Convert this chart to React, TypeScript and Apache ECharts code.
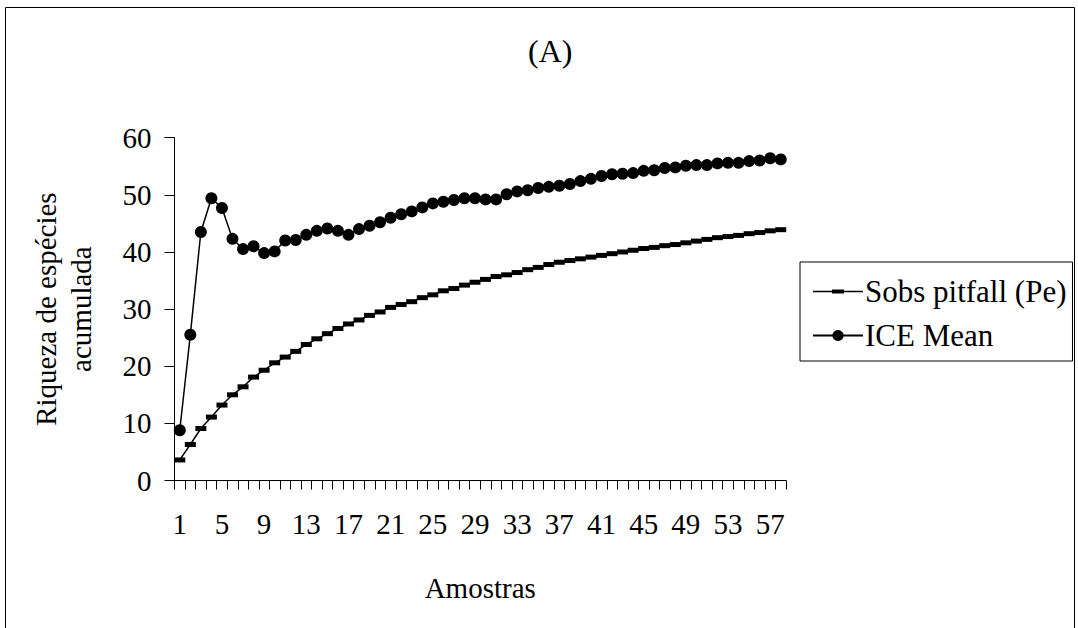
import React, { useEffect, useRef } from "react";
import * as echarts from "echarts";

const categories: string[] = Array.from({ length: 58 }, (_, i) => String(i + 1));

const sobsPitfall: number[] = [
  3.6, 6.3, 9.1, 11.1, 13.2, 15.0, 16.4, 18.1, 19.3, 20.6,
  21.6, 22.6, 23.8, 24.8, 25.7, 26.6, 27.4, 28.1, 28.9, 29.5,
  30.3, 30.8, 31.3, 32.0, 32.5, 33.2, 33.6, 34.2, 34.7, 35.2,
  35.7, 36.0, 36.4, 36.9, 37.3, 37.8, 38.2, 38.5, 38.8, 39.1,
  39.4, 39.7, 40.0, 40.3, 40.6, 40.8, 41.1, 41.3, 41.6, 41.9,
  42.2, 42.5, 42.7, 42.9, 43.2, 43.4, 43.7, 43.9,
];

const iceMean: number[] = [
  8.8, 25.5, 43.5, 49.4, 47.7, 42.3, 40.5, 41.0, 39.8, 40.1,
  42.0, 42.1, 43.0, 43.7, 44.1, 43.7, 43.0, 44.0, 44.6, 45.2,
  46.0, 46.6, 47.1, 47.8, 48.5, 48.8, 49.1, 49.4, 49.4, 49.2,
  49.2, 50.1, 50.6, 50.8, 51.2, 51.4, 51.6, 51.9, 52.4, 52.8,
  53.3, 53.6, 53.7, 53.8, 54.2, 54.3, 54.7, 54.8, 55.1, 55.2,
  55.2, 55.5, 55.6, 55.6, 55.9, 56.0, 56.4, 56.2,
];

const FONT = "'Liberation Serif', 'Times New Roman', serif";

// legend icon for the dash-marker series: a line with a small flat bar (box 50 x 14)
const SOBS_ICON =
  "path://M0 0L0.01 0L0 0.01Z M50 14L49.99 14L50 13.99Z M0 6.25H50V7.75H0Z M19 5H31V9H19Z";

export default function App() {
  const ref = useRef<HTMLDivElement>(null);
  useEffect(() => {
    if (!ref.current) return;
    const chart = echarts.init(ref.current, null, { renderer: "svg" });
    chart.setOption({
      animation: false,
      backgroundColor: "#ffffff",
      textStyle: { fontFamily: FONT, color: "#000" },
      title: {
        text: "(A)",
        left: 523,
        top: 30,
        textStyle: { fontFamily: FONT, fontSize: 32, fontWeight: "normal", color: "#000" },
      },
      graphic: [
        {
          type: "rect",
          shape: { x: 5.5, y: 7.5, width: 1069, height: 640 },
          style: { fill: "none", stroke: "#000", lineWidth: 1 },
          silent: true,
        },
      ],
      legend: {
        orient: "vertical",
        left: 800,
        top: 262,
        padding: [14, 6, 10, 12],
        itemGap: 13,
        itemWidth: 50,
        itemHeight: 14,
        borderColor: "#000",
        borderWidth: 1,
        borderRadius: 0,
        textStyle: { fontFamily: FONT, fontSize: 31, color: "#000", padding: [0, 0, 0, -3] },
        data: [
          { name: "Sobs pitfall (Pe)", icon: SOBS_ICON, itemStyle: { color: "#000", borderWidth: 0 } },
          { name: "ICE Mean" },
        ],
      },
      grid: { left: 174.5, right: 292, top: 137.7, bottom: 147.5, containLabel: false },
      xAxis: {
        type: "category",
        data: categories,
        boundaryGap: true,
        name: "Amostras",
        nameLocation: "middle",
        nameGap: 93,
        nameTextStyle: { fontFamily: FONT, fontSize: 29, color: "#000" },
        axisLine: { lineStyle: { color: "#000", width: 1 } },
        axisTick: { show: true, alignWithLabel: false, interval: 0, length: 9, lineStyle: { color: "#000" } },
        axisLabel: { interval: 3, margin: 29, fontFamily: FONT, fontSize: 29, color: "#000" },
        splitLine: { show: false },
      },
      yAxis: {
        type: "value",
        min: 0,
        max: 60,
        interval: 10,
        name: "Riqueza de espécies\nacumulada",
        nameLocation: "middle",
        nameGap: 76,
        nameRotate: 90,
        nameTextStyle: { fontFamily: FONT, fontSize: 29, color: "#000", lineHeight: 35 },
        axisLine: { show: true, lineStyle: { color: "#000", width: 1 } },
        axisTick: { show: true, length: 10, lineStyle: { color: "#000" } },
        axisLabel: { margin: 23, fontFamily: FONT, fontSize: 29, color: "#000" },
        splitLine: { show: false },
      },
      series: [
        {
          name: "Sobs pitfall (Pe)",
          type: "line",
          data: sobsPitfall,
          symbol: "rect",
          symbolSize: [11, 5],
          showAllSymbol: true,
          lineStyle: { color: "#000", width: 1.5 },
          itemStyle: { color: "#000", borderWidth: 0 },
        },
        {
          name: "ICE Mean",
          type: "line",
          data: iceMean,
          symbol: "circle",
          symbolSize: 12,
          showAllSymbol: true,
          lineStyle: { color: "#000", width: 1.5 },
          itemStyle: { color: "#000", borderWidth: 0 },
        },
      ],
    });
    return () => chart.dispose();
  }, []);
  return (
    <div
      ref={ref}
      style={{ position: "fixed", left: 0, top: 0, width: 1078, height: 628 }}
    />
  );
}
